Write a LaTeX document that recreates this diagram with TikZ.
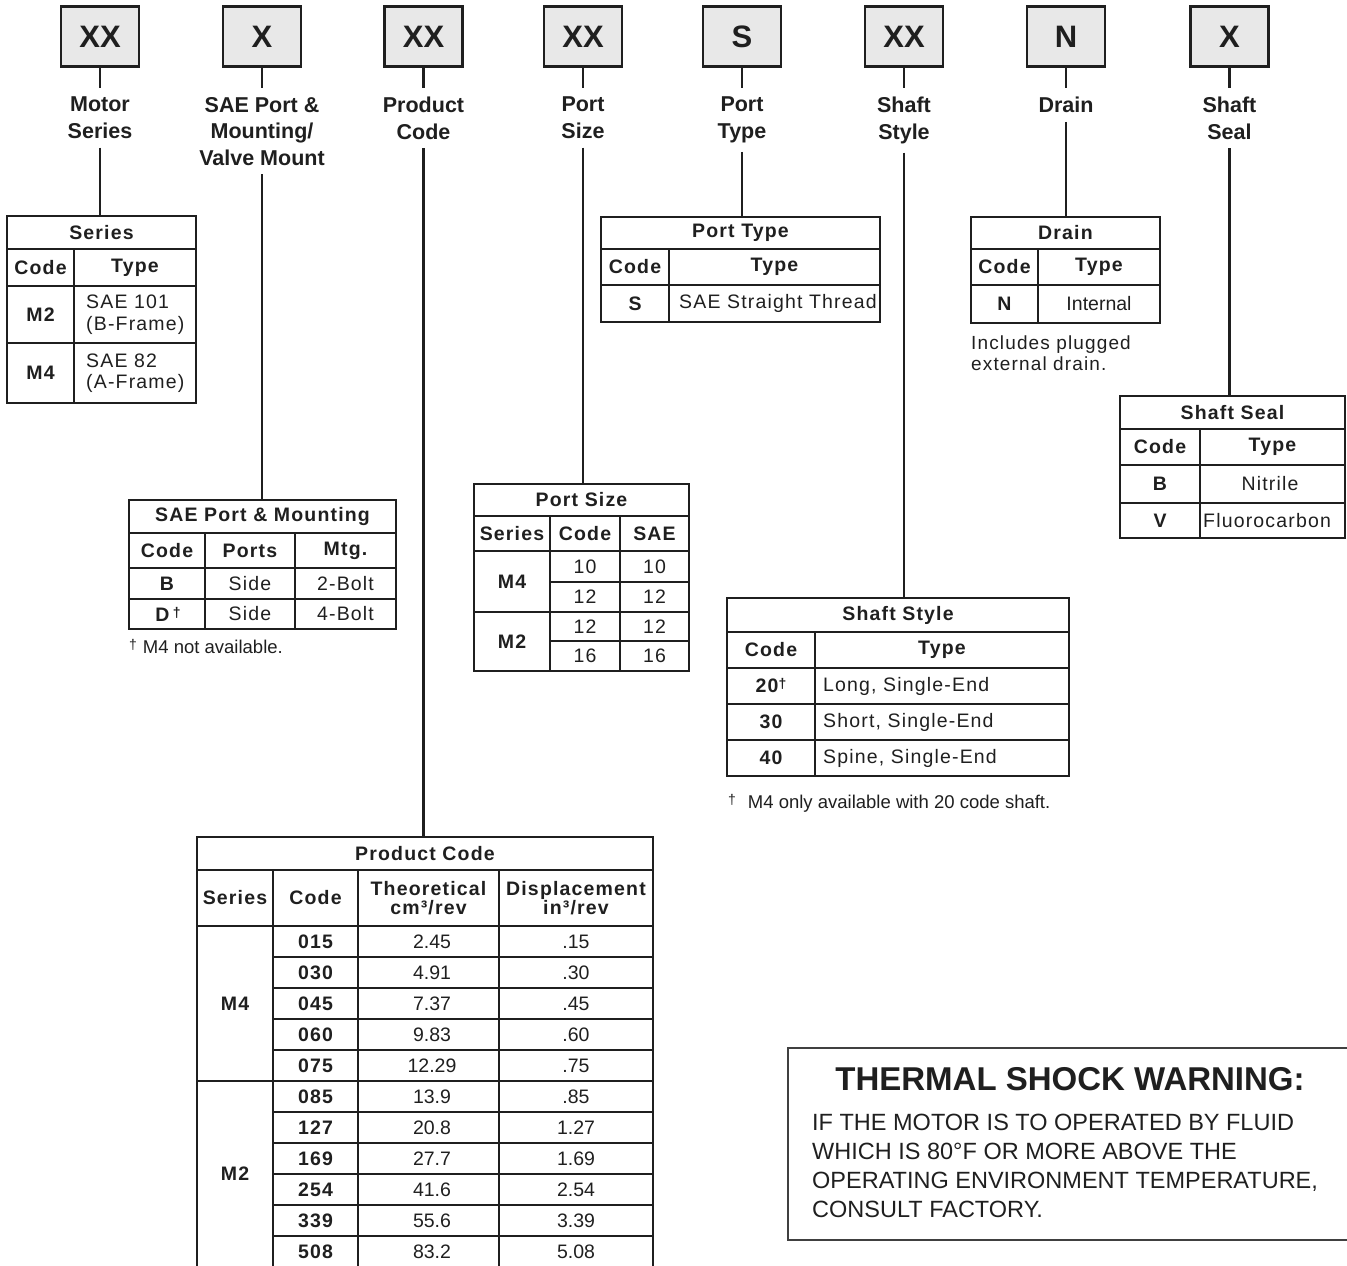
\documentclass[tikz,border=0pt]{standalone}
\usepackage{fontspec}
\setmainfont{Liberation Sans}
\newfontfamily\tabfont[LetterSpace=6]{Liberation Sans}
\usetikzlibrary{positioning}
\definecolor{ink}{gray}{0.12}
\definecolor{boxgray}{gray}{0.91}
\newcommand{\dg}{\raisebox{4pt}{\fontsize{14pt}{14pt}\selectfont †}}

\begin{document}
\begin{tikzpicture}[x=1pt, y=-1pt,
  every node/.append style={text=ink},
  codebox/.style={draw=ink, line width=2.6pt, fill=boxgray, minimum width=78pt, minimum height=60pt, inner sep=0pt, font=\bfseries\fontsize{31pt}{31pt}\selectfont},
  field/.style={font=\bfseries\fontsize{21.5pt}{26.5pt}\selectfont, align=center, inner xsep=2pt, inner ysep=9pt},
  link/.style={line width=2.4pt, draw=ink},
  rule/.style={line width=2.2pt, draw=ink},
  hd/.style={font=\tabfont\bfseries\fontsize{19.5pt}{20pt}\selectfont, inner sep=0pt},
  cell/.style={font=\tabfont\fontsize{19.5pt}{21.5pt}\selectfont, inner sep=0pt},
  num/.style={font=\fontsize{19.5pt}{21pt}\selectfont, inner sep=0pt},
  note/.style={font=\fontsize{18.5pt}{21pt}\selectfont, inner sep=0pt, anchor=west}
]
\useasboundingbox (0,0) rectangle (1347,1266);

% model code boxes
\node[codebox] (b1) at (100,36.5)   {XX};
\node[codebox] (b2) at (262,36.5)   {X};
\node[codebox] (b3) at (423.5,36.5) {XX};
\node[codebox] (b4) at (583,36.5)   {XX};
\node[codebox] (b5) at (742,36.5)   {S};
\node[codebox] (b6) at (904,36.5)   {XX};
\node[codebox] (b7) at (1066,36.5)  {N};
\node[codebox] (b8) at (1229.5,36.5) {X};

% field names
\node[field, below=20pt of b1] (f1) {Motor\\Series};
\node[field, below=20pt of b2] (f2) {SAE Port \&\\Mounting/\\Valve Mount};
\node[field, below=20pt of b3] (f3) {Product\\Code};
\node[field, below=20pt of b4] (f4) {Port\\Size};
\node[field, below=20pt of b5] (f5) {Port\\Type};
\node[field, below=20pt of b6] (f6) {Shaft\\Style};
\node[field, below=20pt of b7] (f7) {Drain};
\node[field, below=20pt of b8] (f8) {Shaft\\Seal};

\foreach \i in {1,...,8}
  \draw[link] (b\i) -- (f\i);

% Series
\draw[rule] (7,216) rectangle (196,403);
\foreach \y in {249,286,343} \draw[rule] (7,\y) -- (196,\y);
\draw[rule] (74,249) -- (74,403);
\node[hd, minimum height=33pt] (tser) at (101.5,232.5) {Series};
\node[hd] (ser-c) at (40.5,267.5) {Code};
\node[hd] (ser-t) at (135,267.5) {Type};
\node[hd] (ser-m2) at (40.5,314.5) {M2};
\node[cell, align=left, anchor=west] (ser-m2t) at (86,314.5) {SAE 101\\(B-Frame)};
\node[hd] (ser-m4) at (40.5,373) {M4};
\node[cell, align=left, anchor=west] (ser-m4t) at (86,373) {SAE 82\\(A-Frame)};

% SAE port & mounting
\draw[rule] (129,500) rectangle (396,629);
\foreach \y in {533,568,599} \draw[rule] (129,\y) -- (396,\y);
\draw[rule] (205,533) -- (205,629) (295,533) -- (295,629);
\node[hd, minimum height=33pt] (tsae) at (262.5,516.5) {SAE Port \& Mounting};
\node[hd] (sae-c) at (167,550.5) {Code};
\node[hd] (sae-p) at (250,550.5) {Ports};
\node[hd] (sae-m) at (345.5,550.5) {Mtg.};
\node[hd] (sae-b) at (167,583.5) {B};
\node[cell] (sae-b1) at (250,583.5) {Side};
\node[cell] (sae-b2) at (345.5,583.5) {2-Bolt};
\node[hd] (sae-d) at (168,614) {D\,\dg};
\node[cell] (sae-d1) at (250,614) {Side};
\node[cell] (sae-d2) at (345.5,614) {4-Bolt};
\node[note] (sae-note) at (129,647) {\dg\hspace{6pt}M4 not available.};

% Port type
\draw[rule] (601,217) rectangle (880,322);
\foreach \y in {249,285} \draw[rule] (601,\y) -- (880,\y);
\draw[rule] (669,249) -- (669,322);
\node[hd, minimum height=32pt] (tpt) at (740.5,233) {Port Type};
\node[hd] (pt-c) at (635,267) {Code};
\node[hd] (pt-t) at (774.5,267) {Type};
\node[hd] (pt-s) at (635,303.5) {S};
\node[cell, anchor=west] (pt-st) at (679,303.5) {SAE Straight Thread};

% Port size
\draw[rule] (474,484) rectangle (689,671);
\foreach \y in {516,551,612} \draw[rule] (474,\y) -- (689,\y);
\foreach \y in {582,641} \draw[rule] (550,\y) -- (689,\y);
\draw[rule] (550,516) -- (550,671) (620,516) -- (620,671);
\node[hd, minimum height=32pt] (tps) at (581.5,500) {Port Size};
\node[hd] (ps-ser) at (512,533.5) {Series};
\node[hd] (ps-c) at (585,533.5) {Code};
\node[hd] (ps-s) at (654.5,533.5) {SAE};
\node[hd] (ps-m4) at (512,581.5) {M4};
\node[hd] (ps-m2) at (512,641.5) {M2};
\foreach \v/\y [count=\i] in {10/566.5, 12/597, 12/626.5, 16/656} {
  \node[cell] (ps-c\i) at (585,\y) {\v};
  \node[cell] (ps-s\i) at (654.5,\y) {\v};
}

% Shaft style
\draw[rule] (727,598) rectangle (1069,776);
\foreach \y in {632,668,704,740} \draw[rule] (727,\y) -- (1069,\y);
\draw[rule] (815,632) -- (815,776);
\node[hd, minimum height=34pt] (tss) at (898,615) {Shaft Style};
\node[hd] (ss-c) at (771,650) {Code};
\node[hd] (ss-t) at (942,650) {Type};
\foreach \c/\t/\y [count=\i] in {20\dg/{Long, Single-End}/686, 30/{Short, Single-End}/722, 40/{Spine, Single-End}/758} {
  \node[hd] (ss-c\i) at (771,\y) {\c};
  \node[cell, anchor=west] (ss-t\i) at (823,\y) {\t};
}
\node[note] (ss-note) at (728,803) {\dg\hspace{12pt}M4 only available with 20 code shaft.};

% Drain
\draw[rule] (971,217) rectangle (1160,323);
\foreach \y in {249,285} \draw[rule] (971,\y) -- (1160,\y);
\draw[rule] (1038,249) -- (1038,323);
\node[hd, minimum height=32pt] (tdr) at (1065.5,233) {Drain};
\node[hd] (dr-c) at (1004.5,267) {Code};
\node[hd] (dr-t) at (1099,267) {Type};
\node[hd] (dr-n) at (1004.5,304) {N};
\node[num] (dr-i) at (1099,304) {Internal};
\node[cell, anchor=north west, align=left, font=\tabfont\fontsize{19pt}{21pt}\selectfont] (dr-note) at (971,336) {Includes plugged\\external drain.};

% Shaft seal
\draw[rule] (1120,396) rectangle (1345,538);
\foreach \y in {429,465,503} \draw[rule] (1120,\y) -- (1345,\y);
\draw[rule] (1200,429) -- (1200,538);
\node[hd, minimum height=33pt] (tsl) at (1232.5,412.5) {Shaft Seal};
\node[hd] (sl-c) at (1160,447) {Code};
\node[hd] (sl-t) at (1272.5,447) {Type};
\node[hd] (sl-b) at (1160,484) {B};
\node[cell] (sl-bt) at (1270,484) {Nitrile};
\node[hd] (sl-v) at (1160,520.5) {V};
\node[cell, anchor=west] (sl-vt) at (1203,520.5) {Fluorocarbon};

% Product code
\draw[rule] (197,1268) -- (197,837) -- (653,837) -- (653,1268);
\foreach \y in {870,926,1081} \draw[rule] (197,\y) -- (653,\y);
\foreach \y in {957,988,1019,1050,1112,1143,1174,1205,1236} \draw[rule] (273,\y) -- (653,\y);
\foreach \x in {273,358,499} \draw[rule] (\x,870) -- (\x,1268);
\node[hd, minimum height=33pt] (tpc) at (425,853.5) {Product Code};
\node[hd] (pc-ser) at (235,898) {Series};
\node[hd] (pc-c) at (315.5,898) {Code};
\node[hd, align=center, font=\tabfont\bfseries\fontsize{19.5pt}{19pt}\selectfont] (pc-th) at (428.5,898) {Theoretical\\cm³/rev};
\node[hd, align=center, font=\tabfont\bfseries\fontsize{19.5pt}{19pt}\selectfont] (pc-di) at (576,898) {Displacement\\in³/rev};
\node[hd] (pc-m4) at (235,1003.5) {M4};
\node[hd] (pc-m2) at (235,1174) {M2};
\foreach \c/\th/\di [count=\i] in {015/2.45/.15, 030/4.91/.30, 045/7.37/.45, 060/9.83/.60, 075/12.29/.75,
    085/13.9/.85, 127/20.8/1.27, 169/27.7/1.69, 254/41.6/2.54, 339/55.6/3.39, 508/83.2/5.08} {
  \pgfmathsetmacro\yy{910.5+31*\i}
  \node[hd] (pc-c\i) at (315.5,\yy) {\c};
  \node[num] (pc-t\i) at (432,\yy) {\th};
  \node[num] (pc-d\i) at (576,\yy) {\di};
}

% links down to the tables
\draw[link] (f1) -- (f1.south |- tser.north);
\draw[link] (f2) -- (f2.south |- tsae.north);
\draw[link] (f3) -- (f3.south |- tpc.north);
\draw[link] (f4) -- (f4.south |- tps.north);
\draw[link] (f5) -- (f5.south |- tpt.north);
\draw[link] (f6) -- (f6.south |- tss.north);
\draw[link] (f7) -- (f7.south |- tdr.north);
\draw[link] (f8) -- (f8.south |- tsl.north);

% warning
\draw[line width=1.6pt, draw=ink!85] (1349,1048) -| (788,1240) -- (1349,1240);
\node[anchor=base, inner sep=0pt, font=\bfseries\fontsize{33pt}{34pt}\selectfont] (warn) at (1070,1090) {THERMAL SHOCK WARNING:};
\node[anchor=north west, align=left, inner sep=0pt, font=\fontsize{23.5pt}{29pt}\selectfont] (warntext) at (812,1114) {IF THE MOTOR IS TO OPERATED BY FLUID\\WHICH IS 80°F OR MORE ABOVE THE\\OPERATING ENVIRONMENT TEMPERATURE,\\CONSULT FACTORY.};
\end{tikzpicture}
\end{document}
